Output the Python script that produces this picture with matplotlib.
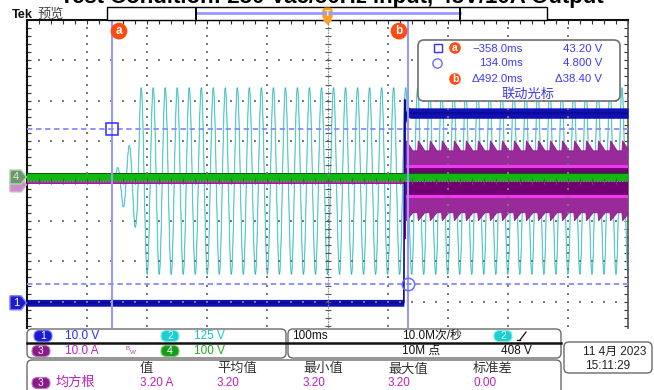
import numpy as np
import matplotlib
matplotlib.use('Agg')
import matplotlib.pyplot as plt
from matplotlib.patches import FancyBboxPatch, Circle, Rectangle, Polygon

plt.rcParams['font.family'] = ['Liberation Sans', 'Noto Sans CJK SC', 'DejaVu Sans']

# ---------------- data ----------------
title_text = "Test Condition: 230 Vac/50Hz input, 48V/10A Output"
time_per_div_ms = 100
n_hdiv = 10

# channel vertical scales (units / div) and offsets (div)
ch1_scale_v, ch2_scale_v, ch3_scale_a, ch4_scale_v = 10.0, 125.0, 10.0, 100.0
ch1_offset_div, ch2_offset_div, ch3_offset_div, ch4_offset_div = -3.03, 0.0, -0.02, 0.1

# CH1 output voltage (V)
ch1_t_ms = [-500, 127, 128.5, 130, 133, 138, 500]
ch1_v = [0.0, 0.0, 50.5, 46.0, 47.5, 47.2, 47.2]
ch1_band_v = [0.85, 0.85, 0.85, 1.3, 1.3, 1.3, 1.3]

# CH2 AC input voltage (V): envelope of the 50 Hz line
ch2_freq_hz = 50
ch2_first_peak_ms = -310
ch2_env_t_ms = [-356, -350, -340, -330, -318, -312, 500]
ch2_env_v = [0, 40, 80, 110, 150, 290, 290]

# CH3 current (A)
ch3_on_ms = 130
ch3_spike_a = [-14, 20]
ch3_ripple_ms = 20
ch3_peak_a, ch3_body_top_a = 10.2, 7.7
ch3_trough_a, ch3_body_bot_a = -9.7, -7.7
ch3_bright_a = [4.0, -3.5]

# CH4 (V)
ch4_t_ms = [-500, 500]
ch4_v = [0.0, 0.0]
ch4_band_v = 10.0

# cursors
cursor_t_ms = [-358.0, 134.0]
cursor_v = [43.20, 4.800]

# bottom measurement
meas_headers = ['值', '平均值', '最小值', '最大值', '标准差']
meas_values = ['3.20 A', '3.20', '3.20', '3.20', '0.00']
meas_name = '均方根'

# ---------------- figure ----------------
W, H = 654, 390
fig = plt.figure(figsize=(W / 100, H / 100), dpi=100)
fig.patch.set_facecolor('white')

gx0, gx1, gy0, gy1 = 27, 628, 20, 328
px_per_vdiv = 40.2
center_y_px = 181
ax = fig.add_axes([gx0 / W, 1 - gy1 / H, (gx1 - gx0) / W, (gy1 - gy0) / H])
half_t = time_per_div_ms * n_hdiv / 2
ax.set_xlim(-half_t, half_t)
ax.set_ylim((center_y_px - gy1) / px_per_vdiv, (center_y_px - gy0) / px_per_vdiv)
ax.set_facecolor('white')

ax.set_xticks(np.arange(-half_t, half_t + 1, time_per_div_ms / 5))
ax.set_yticks(np.round(np.arange(-3.6, 4.01, 0.2), 2))
ax.tick_params(axis='x', direction='in', top=True, bottom=False, length=3, width=0.8,
               color='#333333', labelbottom=False)
ax.tick_params(axis='y', direction='in', left=True, right=True, length=3, width=0.8,
               color='#333333', labelleft=False)
for s in ['left', 'top']:
    ax.spines[s].set_color('#111111')
    ax.spines[s].set_linewidth(1.5)
ax.spines['right'].set_color('#555555')
ax.spines['right'].set_linewidth(1.2)
ax.spines['bottom'].set_visible(False)

# graticule dots
vx = np.arange(-400, 401, 100)
vx = vx[vx != 0]
ys = np.arange(-3.6, 4.0, 0.2)
X, Y = np.meshgrid(vx, ys)
ax.scatter(X.ravel(), Y.ravel(), s=1.0, marker='s', color='#7a7a7a', linewidths=0, zorder=7)
hy = np.array([-3, -2, -1, 1, 2, 3])
xs = np.arange(-480, 481, 20)
X, Y = np.meshgrid(xs, hy)
ax.scatter(X.ravel(), Y.ravel(), s=1.0, marker='s', color='#7a7a7a', linewidths=0, zorder=7)
# center cross
ax.axvline(0, color='#8a8a8a', lw=0.8, ls=(0, (1.5, 1)), zorder=7)
ax.axhline(0, color='#8a8a8a', lw=0.8, ls=(0, (1.5, 1)), zorder=7)
ax.plot(np.zeros_like(ys), ys, ls='none', marker='_', ms=4, mew=0.8, color='#555555', zorder=7)
ax.plot(xs, np.zeros_like(xs), ls='none', marker='|', ms=4, mew=0.8, color='#555555', zorder=7)

# CH2 cyan
t2 = np.arange(ch2_env_t_ms[0], half_t, 0.1)
env2 = np.interp(t2, ch2_env_t_ms, ch2_env_v)
v2 = env2 * np.cos(2 * np.pi * ch2_freq_hz * (t2 - ch2_first_peak_ms) / 1000.0)
d2 = v2 / ch2_scale_v + ch2_offset_div
ax.plot(t2, d2, color='#a6e8e8', lw=1.05, zorder=2)
ax.plot(t2, d2, color='#1aa6a6', lw=0.35, zorder=2.1)

# CH3 magenta
ax.plot([-half_t, ch3_on_ms], [ch3_offset_div - 0.02] * 2, color='#7a007a', lw=1.2, zorder=3)
ax.plot([-half_t, ch3_on_ms], [ch3_offset_div + 0.01] * 2, color='#e010e0', lw=1.8, zorder=3.1)
top_pts, bot_pts = [], []
tk = ch3_on_ms
while tk < half_t + ch3_ripple_ms:
    top_pts += [(tk, ch3_body_top_a), (tk + 1.0, ch3_peak_a), (tk + ch3_ripple_ms * 0.6, ch3_body_top_a)]
    bot_pts += [(tk, ch3_body_bot_a), (tk + 1.0, ch3_trough_a), (tk + ch3_ripple_ms * 0.6, ch3_body_bot_a)]
    tk += ch3_ripple_ms
top_pts = [(t, a / ch3_scale_a + ch3_offset_div) for t, a in top_pts]
bot_pts = [(t, a / ch3_scale_a + ch3_offset_div) for t, a in bot_pts]
ax.add_patch(Polygon(top_pts + bot_pts[::-1], closed=True, fc='#9a2a9a', ec='#8a1a8a', lw=0.6, zorder=3))
b_hi = ch3_bright_a[0] / ch3_scale_a + ch3_offset_div
b_lo = ch3_bright_a[1] / ch3_scale_a + ch3_offset_div
ax.fill_between([ch3_on_ms, half_t], b_lo, b_hi, color='#720072', lw=0, zorder=3.1)
ax.plot([ch3_on_ms, half_t], [b_hi, b_hi], color='#f038f0', lw=2.2, zorder=3.2)
ax.plot([ch3_on_ms, half_t], [b_lo, b_lo], color='#f038f0', lw=2.2, zorder=3.2)
ax.plot([ch3_on_ms - 1, ch3_on_ms - 1], [a / ch3_scale_a + ch3_offset_div for a in ch3_spike_a],
        color='#8a008a', lw=1.5, zorder=3.3)

# CH1 blue
c1 = np.array(ch1_v) / ch1_scale_v + ch1_offset_div
bw1 = np.array(ch1_band_v) / ch1_scale_v
ax.fill_between(ch1_t_ms, c1 - bw1, c1 + bw1, color='#1010b4', lw=0, zorder=4)
ax.plot(ch1_t_ms, c1, color='#0a0a90', lw=1.2, zorder=4.1)

# CH4 green
c4 = np.array(ch4_v) / ch4_scale_v + ch4_offset_div
bw4 = ch4_band_v / ch4_scale_v
ax.fill_between(ch4_t_ms, c4 - bw4, c4 + bw4, color='#10b810', lw=0, zorder=5)
ax.plot(ch4_t_ms, c4 + bw4, color='#0b5a0b', lw=0.7, zorder=5.1)
ax.plot(ch4_t_ms, c4 - bw4 * 0.9, color='#0a7a0a', lw=0.6, zorder=5.1)

# cursors
cur_div = [v / ch1_scale_v + ch1_offset_div for v in cursor_v]
for c in cursor_t_ms:
    ax.axvline(c, color='#9898ff', lw=1.5, zorder=8)
for d in cur_div:
    ax.axhline(d, color='#8a8aff', lw=1.3, ls=(0, (3, 2)), zorder=8)
ax.plot(cursor_t_ms[0], cur_div[0], marker='s', ms=8, mfc='none', mec='#2b2bff', mew=1.1, zorder=9)
ax.plot(cursor_t_ms[1], cur_div[1], marker='o', ms=9, mfc='none', mec='#6b6bff', mew=1.1, zorder=9)
for c, lab, dx in zip(cursor_t_ms, ['a', 'b'], [4.8, -6.5]):
    ax.annotate(lab, xy=(c, 1), xycoords=('data', 'axes fraction'), xytext=(dx, -8),
                textcoords='offset points', ha='center', va='center', color='white',
                fontsize=8.5, fontweight='bold',
                bbox=dict(boxstyle='circle,pad=0.2', fc='#ff4a10', ec='none'),
                zorder=10, annotation_clip=False)

# ---------------- UI overlay (pixel coordinates) ----------------
ui = fig.add_axes([0, 0, 1, 1], zorder=5)
ui.set_xlim(0, W)
ui.set_ylim(H, 0)
ui.axis('off')
ui.patch.set_alpha(0)

ui.text(332, 3.5, title_text, ha='center', va='baseline', fontsize=16, fontweight='bold', color='black')
ui.text(12, 14.5, 'Tek', ha='left', va='center', fontsize=9.2, fontweight='bold', color='#111111')
ui.text(37, 14.5, '预览', ha='left', va='center', fontsize=9.5, color='#444444',
        family=['Noto Sans CJK SC', 'DejaVu Sans'])
ui.add_patch(Rectangle((107, 7), 440, 12.5, fc='white', ec='black', lw=1))
ui.plot([196, 460], [12.8, 12.8], color='#9a9aff', lw=2)
for bx in [196, 460]:
    ui.plot([bx, bx], [7.5, 19], color='black', lw=1.4)

def px_of_t(t):
    return gx0 + (t + half_t) / (2 * half_t) * (gx1 - gx0)

def py_of_div(d):
    return center_y_px - d * px_per_vdiv

trig_x = px_of_t(0)
ui.add_patch(FancyBboxPatch((trig_x - 4.5, 8), 9, 11, boxstyle='round,pad=0,rounding_size=3',
                            fc='#ffa020', ec='#ff9010', lw=0.8))
ui.text(trig_x, 13.5, 'T', ha='center', va='center', fontsize=6.5, color='#fff4d8', fontweight='bold')
ui.add_patch(Polygon([(trig_x - 5, 19.5), (trig_x + 5, 19.5), (trig_x, 25)], closed=True,
                     fc='#ffa020', ec='none'))

# left channel markers
def marker(y, color, edge, label, tcolor):
    pts = [(10, y - 7), (21, y - 7), (26.5, y), (21, y + 7), (10, y + 7)]
    ui.add_patch(Polygon(pts, closed=True, fc=color, ec=edge, lw=1))
    ui.text(16, y + 0.5, label, ha='center', va='center', fontsize=8, color=tcolor)

y3 = py_of_div(ch3_offset_div)
marker(y3 + 3, '#c890c8', '#d8a8d8', '', 'white')
marker(py_of_div(ch4_offset_div), '#6f956f', '#a8dca8', '4', '#d8f0d8')
marker(py_of_div(ch1_offset_div), '#1c1ccc', '#7a7aff', '1', 'white')

# cursor readout box
ui.add_patch(FancyBboxPatch((418, 40), 202, 61, boxstyle='round,pad=0,rounding_size=6',
                            fc='white', ec='#707070', lw=1.2))
tcol = '#3c3cf0'
ui.add_patch(Rectangle((433.5, 43.5), 8, 8, fc='none', ec='#3030ff', lw=1))
ui.add_patch(Circle((437.5, 63.5), 4.6, fc='none', ec='#6a6aff', lw=1))
for yy, lab in [(48, 'a'), (79, 'b')]:
    ui.add_patch(Circle((455, yy), 5.8, fc='#ff4a10', ec='none'))
    ui.text(455, yy + 0.3, lab, ha='center', va='center', fontsize=7.5, fontweight='bold', color='white')
ta, tb = cursor_t_ms
va_, vb_ = cursor_v
fs_c = 8.2
ui.text(523, 48.5, f'\u2212{abs(ta):.1f}ms' if ta < 0 else f'{ta:.1f}ms', ha='right', va='center', fontsize=fs_c, color=tcol)
ui.text(602, 48.5, f'{va_:.2f} V', ha='right', va='center', fontsize=fs_c, color=tcol)
ui.text(523, 63.5, f'{tb:.1f}ms', ha='right', va='center', fontsize=fs_c, color=tcol)
ui.text(602, 63.5, f'{vb_:.3f} V', ha='right', va='center', fontsize=fs_c, color=tcol)
ui.text(523, 79, f'\u0394{tb - ta:.1f}ms', ha='right', va='center', fontsize=fs_c, color=tcol)
ui.text(602, 79, f'\u0394{va_ - vb_:.2f} V', ha='right', va='center', fontsize=fs_c, color=tcol)
ui.text(528, 94, '联动光标', ha='center', va='center', fontsize=9.5, color='#3a3af0',
        family=['Noto Sans CJK SC', 'DejaVu Sans'])

# bottom panel boxes
box_ec = '#6a6a6a'
ui.add_patch(FancyBboxPatch((27, 329), 259, 29, boxstyle='round,pad=0,rounding_size=5', fc='white', ec=box_ec, lw=1))
ui.add_patch(FancyBboxPatch((288, 329), 273, 29, boxstyle='round,pad=0,rounding_size=5', fc='white', ec=box_ec, lw=1))
ui.plot([27, 561], [343, 343], color='#111111', lw=1.8)
ui.add_patch(FancyBboxPatch((27, 360), 534, 45, boxstyle='round,pad=0,rounding_size=5', fc='white', ec=box_ec, lw=1))
ui.add_patch(FancyBboxPatch((564, 342), 88, 31, boxstyle='round,pad=0,rounding_size=5', fc='white', ec=box_ec, lw=1))

def badge(x, y, label, color, edge):
    ui.add_patch(FancyBboxPatch((x - 9, y - 5.5), 18, 11, boxstyle='round,pad=0,rounding_size=5.5',
                                fc=color, ec=edge, lw=0.8))
    ui.text(x, y + 0.3, label, ha='center', va='center', fontsize=7.5, color='white')

fs_b = 8.5
cjk = ['Liberation Sans', 'Noto Sans CJK SC', 'DejaVu Sans']
badge(43, 336, '1', '#1a1ad0', '#6a6aff')
ui.text(65, 336, f'{ch1_scale_v:.1f} V', ha='left', va='center', fontsize=fs_b, color='#2a2aff')
badge(170, 336, '2', '#18d0d0', '#80eaea')
ui.text(194, 336, f'{ch2_scale_v:.0f} V', ha='left', va='center', fontsize=fs_b, color='#14c4c4')
badge(41, 351, '3', '#8a1a8a', '#c070c0')
ui.text(65, 351, f'{ch3_scale_a:.1f} A', ha='left', va='center', fontsize=fs_b, color='#c020c0')
ui.text(126, 348.5, 'B', ha='left', va='center', fontsize=4.5, color='#b040b0')
ui.text(129.5, 352.5, 'W', ha='left', va='center', fontsize=4.5, color='#b040b0')
badge(170, 351, '4', '#1a9a1a', '#70d070')
ui.text(194, 351, f'{ch4_scale_v:.0f} V', ha='left', va='center', fontsize=fs_b, color='#22aa22')

ui.text(292, 336, f'{time_per_div_ms}ms', ha='left', va='center', fontsize=fs_b, color='#111111')
ui.text(402, 336, '10.0M次/秒', ha='left', va='center', fontsize=fs_b, color='#111111', family=cjk)
badge(503, 336, '2', '#18d0d0', '#80eaea')
ui.plot([520, 526], [340, 332], color='#111111', lw=0.9)
ui.plot([517, 520], [340, 340], color='#111111', lw=0.9)
ui.text(402, 351, '10M 点', ha='left', va='center', fontsize=fs_b, color='#111111', family=cjk)
ui.text(501, 351, '408 V', ha='left', va='center', fontsize=fs_b, color='#111111')

ui.text(583, 352, '11 4月 2023', ha='left', va='center', fontsize=fs_b, color='#222222', family=cjk)
ui.text(585, 366, '15:11:29', ha='left', va='center', fontsize=fs_b, color='#222222')

hx = [140, 217, 303, 388, 473]
for x, h in zip(hx, meas_headers):
    ui.text(x, 369, h, ha='left', va='center', fontsize=9.5, color='#333333', family=cjk)
for x, v in zip(hx, meas_values):
    ui.text(x, 383, v, ha='left', va='center', fontsize=fs_b, color='#c020c0')
badge(41, 383, '3', '#8a1a8a', '#c070c0')
ui.text(56, 383, meas_name, ha='left', va='center', fontsize=9.5, color='#c020c0', family=cjk)

fig.savefig('out.png', dpi=100, facecolor='white')
